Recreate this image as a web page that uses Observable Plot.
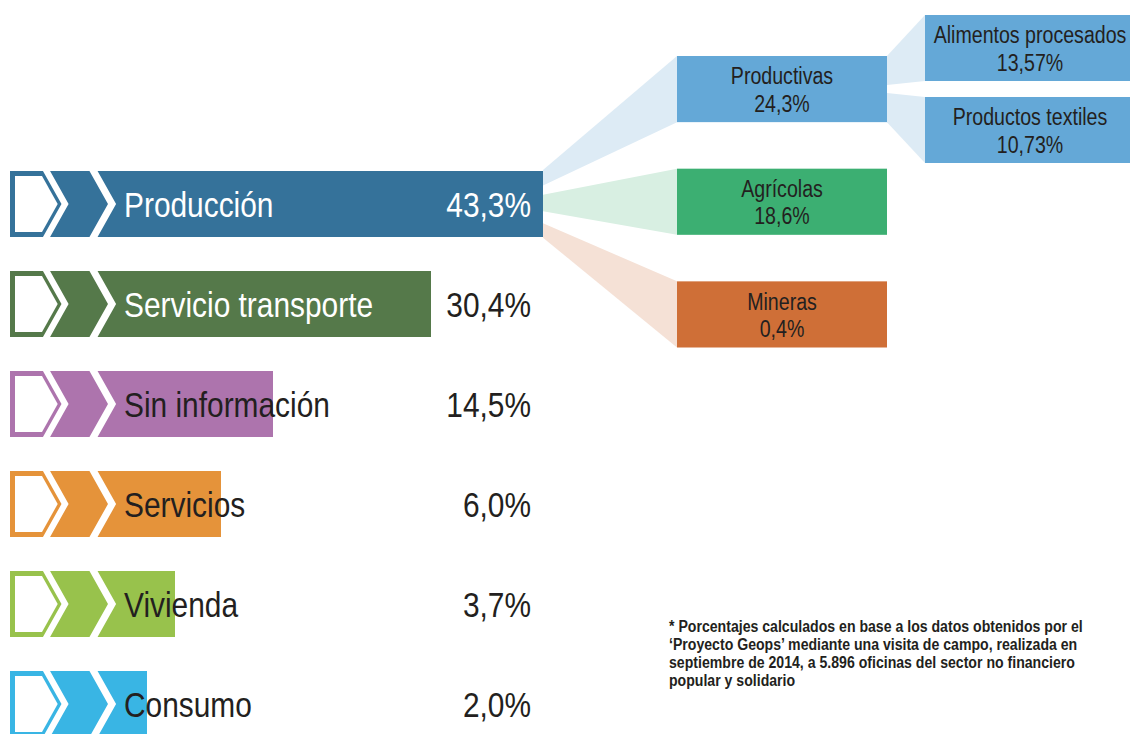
<!DOCTYPE html>
<html>
<head>
<meta charset="utf-8">
<script src="https://cdn.jsdelivr.net/npm/d3@7"></script>
<script src="https://cdn.jsdelivr.net/npm/@observablehq/plot@0.6"></script>
<style>
  html, body { margin: 0; padding: 0; background: #fff; overflow: hidden; }
  #chart { position: relative; width: 1130px; height: 734px; }
</style>
</head>
<body>
<div id="chart"></div>
<script>
// ---------- data ----------
const categorias = ["Producción", "Servicio transporte", "Sin información", "Servicios", "Vivienda", "Consumo"];
const porcentajes = [43.3, 30.4, 14.5, 6.0, 3.7, 2.0];
const etiquetasPct = ["43,3%", "30,4%", "14,5%", "6,0%", "3,7%", "2,0%"];

const ramas = ["Productivas", "Agrícolas", "Mineras"];
const ramasPct = [24.3, 18.6, 0.4];
const ramasEtiquetas = ["24,3%", "18,6%", "0,4%"];

const subramas = ["Alimentos procesados", "Productos textiles"];
const subramasPct = [13.57, 10.73];
const subramasEtiquetas = ["13,57%", "10,73%"];

const nota = [
  "* Porcentajes calculados en base a los datos obtenidos por el",
  "‘Proyecto Geops’ mediante una visita de campo, realizada en",
  "septiembre de 2014, a 5.896 oficinas del sector no financiero",
  "popular y solidario"
];

// ---------- styles ----------
const colores = ["#35729a", "#55794a", "#ad74ad", "#e5933a", "#98c24c", "#39b5e4"];
const coloresTexto = ["#fff", "#fff", "#231f20", "#231f20", "#231f20", "#231f20"];
const coloresPct = ["#fff", "#231f20", "#231f20", "#231f20", "#231f20", "#231f20"];
const coloresRamas = ["#64a8d7", "#3caf72", "#cf6f37"];
const coloresAbanico = ["#ddebf5", "#d8efe2", "#f5e1d6"];
const colorSubramas = "#64a8d7";
const TEXTO_OSCURO = "#231f20";
const FUENTE = "'Liberation Sans', Arial, sans-serif";
const ESTRECHO = 0.83; // horizontal squeeze to imitate a condensed face

const datos = categorias.map((c, i) => ({categoria: c, pct: porcentajes[i], etiqueta: etiquetasPct[i], i}));

function texto(g, x, y, str, {size = 36, anchor = "start", fill = TEXTO_OSCURO, squeeze = ESTRECHO, weight = "normal"} = {}) {
  g.append("text")
    .attr("transform", `translate(${x},${y}) scale(${squeeze},1)`)
    .attr("font-family", FUENTE)
    .attr("font-size", size)
    .attr("font-weight", weight)
    .attr("text-anchor", anchor)
    .attr("fill", fill)
    .text(str);
}

// chevron decoration drawn from the scales
function chevrones(index, scales) {
  const g = d3.create("svg:g");
  const x0 = scales.x(0);
  const h = scales.y.bandwidth();
  const s = 0.56; // slope dx per dy
  for (const c of categorias) {
    const y0 = scales.y(c), y1 = y0 + h, m = y0 + h / 2;
    const t = (h / 2) * s;
    const b = 5, ti = (h / 2 - b) * s;
    g.append("path").attr("fill", "#fff").attr("d",
      `M${x0 + b},${y0 + b}H${x0 + 32}L${x0 + 32 + ti},${m}L${x0 + 32},${y1 - b}H${x0 + b}Z`);
    for (const [a, w] of [[33, 6.5], [79.5, 7.5]]) {
      g.append("path").attr("fill", "#fff").attr("d",
        `M${x0 + a - 0.6},${y0 - 1}H${x0 + a + w}L${x0 + a + w + t + 0.6},${m}L${x0 + a + w},${y1 + 1}H${x0 + a - 0.6}L${x0 + a + t},${m}Z`);
    }
  }
  return g.node();
}

// category names and percentages placed with the scales
function etiquetas(index, scales) {
  const g = d3.create("svg:g");
  const x0 = scales.x(0), xPct = scales.x(d3.max(porcentajes)) - 12;
  const h = scales.y.bandwidth();
  datos.forEach((d) => {
    const yb = scales.y(d.categoria) + h / 2 + 13;
    texto(g, x0 + 114, yb, d.categoria, {fill: coloresTexto[d.i]});
    texto(g, xPct, yb, d.etiqueta, {anchor: "end", fill: coloresPct[d.i]});
  });
  return g.node();
}

// breakdown tree of "Producción"
function arbol(index, scales) {
  const g = d3.create("svg:g");
  const xb = scales.x(porcentajes[0]);
  const yb = scales.y(categorias[0]);
  const hb = scales.y.bandwidth();
  const col1 = [677, 887], col2 = [925, 1135];
  const n1 = d3.scaleBand().domain(ramas).range([56, 347.5]).paddingInner(0.413);
  const n2 = d3.scaleBand().domain(subramas).range([15, 163]).paddingInner(0.195);
  const salidas = [[-0.015, 0.22], [0.36, 0.61], [0.79, 1.01]];
  ramas.forEach((r, i) => {
    const [a, z] = salidas[i];
    const t = n1(r), bw = n1.bandwidth();
    g.append("path").attr("fill", coloresAbanico[i]).attr("d",
      `M${xb},${yb + a * hb}L${col1[0]},${t}V${t + bw}L${xb},${yb + z * hb}Z`);
  });
  const p = n1(ramas[0]), pb = n1.bandwidth();
  const salidas2 = [[0, 0.44], [0.56, 1]];
  subramas.forEach((r, i) => {
    const [a, z] = salidas2[i];
    const t = n2(r), bw = n2.bandwidth();
    g.append("path").attr("fill", coloresAbanico[0]).attr("d",
      `M${col1[1]},${p + a * pb}L${col2[0]},${t}V${t + bw}L${col1[1]},${p + z * pb}Z`);
  });
  const caja = (x, y, w, hh, fill, l1, l2) => {
    g.append("rect").attr("x", x).attr("y", y).attr("width", w).attr("height", hh).attr("fill", fill);
    texto(g, x + w / 2, y + 28.3, l1, {size: 24.5, anchor: "middle", squeeze: 0.8});
    texto(g, x + w / 2, y + 55.7, l2, {size: 24.5, anchor: "middle", squeeze: 0.8});
  };
  ramas.forEach((r, i) => caja(col1[0], n1(r), col1[1] - col1[0], n1.bandwidth(), coloresRamas[i], r, ramasEtiquetas[i]));
  subramas.forEach((r, i) => caja(col2[0], n2(r), col2[1] - col2[0], n2.bandwidth(), colorSubramas, r, subramasEtiquetas[i]));
  return g.node();
}

// footnote
function piePagina() {
  const g = d3.create("svg:g");
  nota.forEach((linea, k) => texto(g, 669, 632 + k * 18, linea, {size: 17, squeeze: 0.83, weight: "bold"}));
  return g.node();
}

const dominioX = [0, ...porcentajes.slice().sort((a, b) => a - b)];

const chart = Plot.plot({
  width: 1130,
  height: 734,
  margin: 0,
  style: {fontFamily: FUENTE, background: "#fff"},
  x: {type: "linear", domain: dominioX, range: [10, 147, 175, 221, 273, 431, 543], axis: null},
  y: {type: "band", domain: categorias, range: [170.5, 736.5], paddingInner: 0.34, paddingOuter: 0, align: 0, axis: null},
  color: {domain: categorias, range: colores},
  marks: [
    Plot.barX(datos, {x: "pct", y: "categoria", fill: "categoria"}),
    chevrones,
    etiquetas,
    arbol,
    piePagina
  ]
});
document.getElementById("chart").appendChild(chart);
</script>
</body>
</html>
